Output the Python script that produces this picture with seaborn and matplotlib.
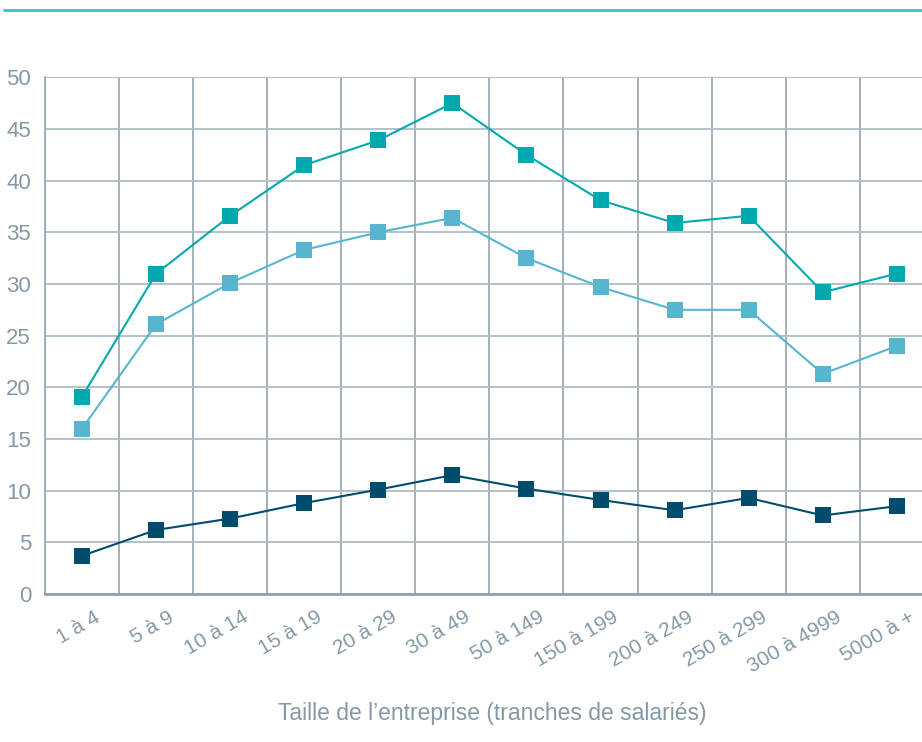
import matplotlib.pyplot as plt
import matplotlib.transforms as mtransforms
from matplotlib.lines import Line2D
import numpy as np
import pandas as pd
import seaborn as sns

# Données
tranches = ["1 à 4", "5 à 9", "10 à 14", "15 à 19", "20 à 29", "30 à 49",
            "50 à 149", "150 à 199", "200 à 249", "250 à 299", "300 à 4999", "5000 à +"]
serie_haute = [19.1, 31.0, 36.6, 41.5, 43.9, 47.5, 42.5, 38.1, 35.9, 36.6, 29.2, 31.0]
serie_moyenne = [16.0, 26.1, 30.1, 33.3, 35.0, 36.4, 32.5, 29.7, 27.5, 27.5, 21.3, 24.0]
serie_basse = [3.7, 6.2, 7.3, 8.8, 10.1, 11.5, 10.2, 9.1, 8.1, 9.3, 7.6, 8.5]

couleurs = {"haute": "#00a9ad", "moyenne": "#56b6cf", "basse": "#004c6c"}
gris_grille = "#9aaab4"
gris_texte = "#8499a6"

df = pd.DataFrame({
    "position": list(range(len(tranches))) * 3,
    "valeur": serie_haute + serie_moyenne + serie_basse,
    "serie": ["haute"] * len(tranches) + ["moyenne"] * len(tranches) + ["basse"] * len(tranches),
})

sns.set_style("white")
plt.rcParams["font.family"] = ["Liberation Sans", "DejaVu Sans"]

fig = plt.figure(figsize=(9.22, 7.42), dpi=100)
ax = fig.add_axes([45 / 922, 148 / 742, 1 - 45 / 922, 516.7 / 742])

sns.lineplot(data=df, x="position", y="valeur", hue="serie", palette=couleurs,
             marker="s", markersize=11.5, markeredgewidth=0, linewidth=1.5,
             legend=False, ax=ax, zorder=3)

ax.set_yticks(range(0, 51, 5))
ax.set_xticks(range(len(tranches)))
ax.set_xticks(np.arange(-0.5, len(tranches), 1), minor=True)
ax.set_xlim(-0.5, 11.34)
ax.set_ylim(0, 50)

# grille
ax.yaxis.grid(True, color="#aebcc5", linewidth=1.3, zorder=0)
ax.xaxis.grid(True, which="minor", color=gris_grille, linewidth=1.3, zorder=0)
ax.xaxis.grid(False, which="major")
ax.set_axisbelow(True)

for cote in ["top", "right"]:
    ax.spines[cote].set_visible(False)
ax.spines["left"].set_color(gris_grille)
ax.spines["left"].set_linewidth(1.3)
ax.spines["bottom"].set_color("#8fa2ae")
ax.spines["bottom"].set_linewidth(2)

ax.tick_params(axis="y", length=0, pad=10, labelsize=16, labelcolor=gris_texte)
ax.tick_params(axis="x", which="both", length=0, pad=4, labelsize=15, labelcolor=gris_texte)
ax.set_xticklabels(tranches, rotation=30, ha="right", rotation_mode="anchor")
decalage = mtransforms.ScaledTranslation(12 / 100, -8 / 100, fig.dpi_scale_trans)
for lab in ax.get_xticklabels():
    lab.set_transform(lab.get_transform() + decalage)

ax.set_ylabel("")
ax.set_xlabel("Taille de l’entreprise (tranches de salariés)", fontsize=16.5, color=gris_texte)
ax.xaxis.set_label_coords((492 - 45) / 877, -108 / 516.7)

# filet décoratif en haut
fig.add_artist(Line2D([4 / 922, 1], [1 - 10 / 742] * 2, color="#3cc0c4", linewidth=2))

fig.savefig("out.png", dpi=100)
